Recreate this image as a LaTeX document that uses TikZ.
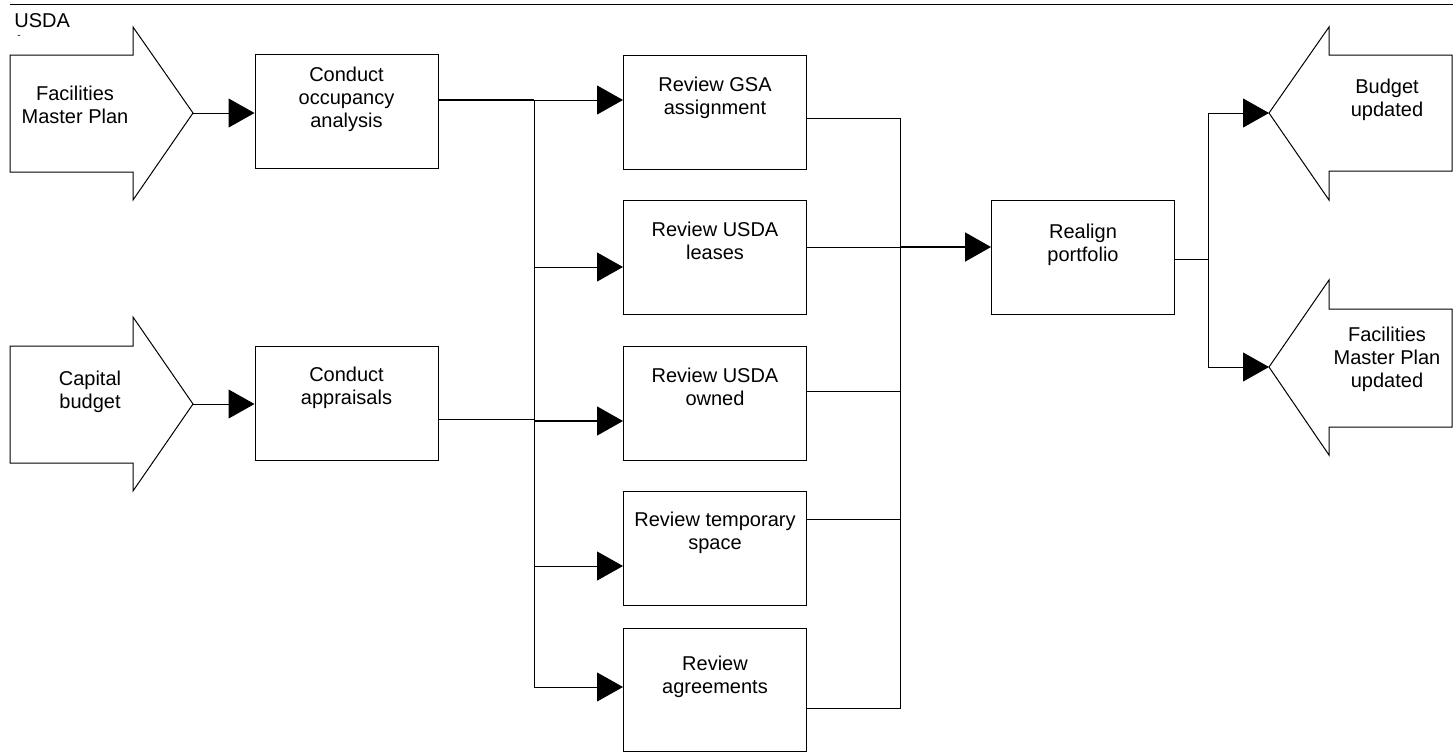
\documentclass[tikz,border=0pt]{standalone}
\usepackage{fontspec}
\setmainfont{Liberation Sans}
\usetikzlibrary{arrows.meta}

\begin{document}
\begin{tikzpicture}[x=0.5pt,y=-0.5pt,
  box/.style={draw,line width=0.5pt,minimum width=91.5pt,minimum height=57pt,inner sep=0pt},
  txt/.style={align=center,font=\fontsize{10}{11.5}\selectfont,inner sep=0pt},
  flow/.style={line width=0.5pt,-{Triangle[length=13pt,width=14.5pt]}},
  link/.style={line width=0.5pt},
  bigarrow/.style={draw,line width=0.5pt,line join=miter}]
\useasboundingbox (0,0) rectangle (1453,752);

% header
\draw[link] (10,4) -- (1453,4);
\node[anchor=base west,font=\fontsize{10}{12}\selectfont,inner sep=0pt] (usda) at (14,27) {USDA};
\node[anchor=base,font=\fontsize{5}{6}\selectfont,inner sep=0pt,text height=1.8pt,text depth=0pt] (dash) at (19,38) {-};

% inputs
\coordinate (fmp-tip) at (193,113);
\coordinate (cap-tip) at (193,404);
\draw[bigarrow] (10,55) -- (133,55) -- (133,27) -- (fmp-tip) -- (133,200) -- (133,172) -- (10,172) -- cycle;
\node[txt] (fmp) at (75,105) {Facilities\\Master Plan};
\draw[bigarrow] (10,346) -- (133,346) -- (133,317) -- (cap-tip) -- (133,491) -- (133,463) -- (10,463) -- cycle;
\node[txt] (cap) at (90,392) {Capital\\budget};

% outputs
\coordinate (bud-tip) at (1269,113);
\coordinate (fmpu-tip) at (1269,367);
\draw[bigarrow] (1452,55) -- (1329,55) -- (1329,27) -- (bud-tip) -- (1329,200) -- (1329,171) -- (1452,171) -- cycle;
\node[txt] (bud) at (1387,100) {Budget\\updated};
\draw[bigarrow] (1452,309) -- (1329,309) -- (1329,280) -- (fmpu-tip) -- (1329,455) -- (1329,427) -- (1452,427) -- cycle;
\node[txt] (fmpu) at (1387,359) {Facilities\\Master Plan\\updated};

% steps
\node[box] (occ) at (346.5,111.5) {};
\node[txt] (occ-t) at (346.5,99) {Conduct\\occupancy\\analysis};
\node[box] (appr) at (346.5,403) {};
\node[txt] (appr-t) at (346.5,388) {Conduct\\appraisals};

\node[box] (gsa) at (715,112) {};
\node[txt] (gsa-t) at (715,98) {Review GSA\\assignment};
\node[box] (lease) at (715,257.5) {};
\node[txt] (lease-t) at (715,241) {Review USDA\\leases};
\node[box] (owned) at (715,403) {};
\node[txt] (owned-t) at (715,387) {Review USDA\\owned};
\node[box] (temp) at (715,548.5) {};
\node[txt] (temp-t) at (715,533) {Review temporary\\space};
\node[box,minimum height=61.5pt] (agree) at (715,689.5) {};
\node[txt] (agree-t) at (715,677) {Review\\agreements};

\node[box] (realign) at (1083,257.5) {};
\node[txt] (realign-t) at (1083,245) {Realign\\portfolio};

% inputs to first steps
\draw[flow] (fmp-tip) -- (fmp-tip -| occ.west);
\draw[flow] (cap-tip) -- (cap-tip -| appr.west);

% left fan
\coordinate (ja) at (534,100);
\coordinate (jb) at (534,687);
\draw[line width=1pt] (occ.east |- ja) -- (ja);
\draw[flow] (ja) -- (ja -| gsa.west);
\draw[link] (ja) -- (jb);
\draw[flow] (jb) -- (jb -| agree.west);
\draw[link] (appr.east |- 0,419) -- (534,419);
\draw[flow,line width=0.75pt] (534,421) -- (owned.west |- 0,421);
\foreach \yy/\nn in {267/lease,566/temp}
  \draw[flow] (534,\yy) -- (\nn.west |- 0,\yy);

% right fan
\coordinate (ka) at (900,118);
\coordinate (kb) at (900,708);
\draw[link] (gsa.east |- ka) -- (ka) -- (kb) -- (kb -| agree.east);
\foreach \yy/\nn in {247/lease,391/owned,519/temp}
  \draw[link] (\nn.east |- 0,\yy) -- (900,\yy);
\draw[flow,line width=1pt] (900,247) -- (realign.west |- 0,247);

% outputs
\coordinate (kc) at (1208,259);
\draw[link] (realign.east |- kc) -- (kc);
\draw[flow] (kc) -- (kc |- bud-tip) -- (bud-tip);
\draw[flow] (kc) -- (kc |- fmpu-tip) -- (fmpu-tip);

\end{tikzpicture}
\end{document}
